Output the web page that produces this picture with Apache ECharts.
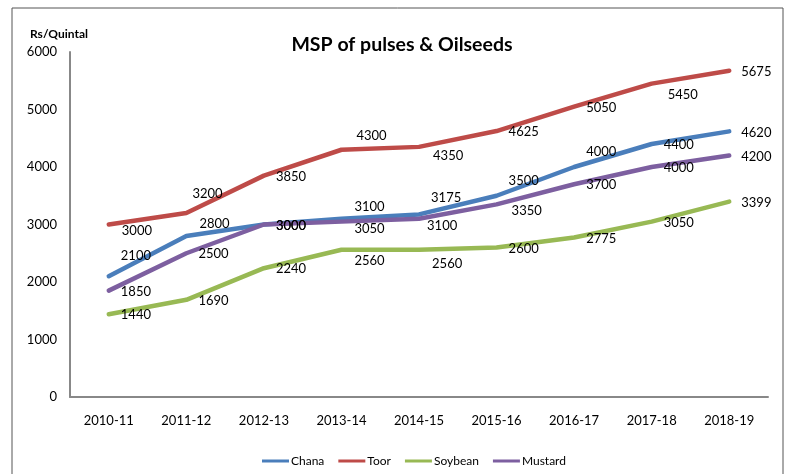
<!DOCTYPE html>
<html>
<head>
<meta charset="utf-8">
<title>MSP of pulses & Oilseeds</title>
<script src="https://cdn.jsdelivr.net/npm/echarts@6/dist/echarts.min.js"></script>
<style>
html, body { margin: 0; padding: 0; background: #fff; }
#main { width: 788px; height: 474px; }
</style>
</head>
<body>
<div id="main"></div>
<script>
// data
var years = ['2010-11', '2011-12', '2012-13', '2013-14', '2014-15', '2015-16', '2016-17', '2017-18', '2018-19'];
var chana = [2100, 2800, 3000, 3100, 3175, 3500, 4000, 4400, 4620];
var toor = [3000, 3200, 3850, 4300, 4350, 4625, 5050, 5450, 5675];
var soybean = [1440, 1690, 2240, 2560, 2560, 2600, 2775, 3050, 3399];
var mustard = [1850, 2500, 3000, 3050, 3100, 3350, 3700, 4000, 4200];

// label nudges [dx, dy] per point (index -> offset), default is just right of point
var nudgeChana = { 0: [0, -21], 1: [1, -13], 3: [1, -13], 4: [0, -18], 5: [0, -16], 6: [0, -16] };
var nudgeToor = { 0: [1, 5], 1: [-6, -20], 3: [3, -15], 4: [2, 8], 7: [4, 10] };
var nudgeSoy = { 3: [1, 10], 4: [1, 13] };
var nudgeMustard = { 3: [1, 6], 4: [-4, 6], 5: [3, 5] };

var FONT = 'Lato';

function mkSeries(name, vals, nudge, color) {
	return {
		name: name,
		type: 'line',
		data: vals,
		// tiny symbol so the labels get drawn
		symbol: 'circle',
		symbolSize: 0.1,
		showSymbol: true,
		smooth: false,
		color: color,
		itemStyle: { color: color },
		lineStyle: { width: 4.5, color: color, cap: 'round', join: 'round' },
		label: {
			show: true,
			position: 'right',
			distance: 12,
			color: '#000',
			fontFamily: FONT,
			fontSize: 13
		},
		labelLayout: function (params) {
			var off = nudge[params.dataIndex] || [0, 0];
			return { dx: off[0], dy: off[1] + 1, hideOverlap: false };
		},
		emphasis: { disabled: true },
		animation: false
	};
}

var myChart = echarts.init(document.getElementById('main'));
var option = {
	backgroundColor: '#fff',
	animation: false,
	title: [{
		text: 'MSP of pulses & Oilseeds',
		left: 397,
		top: 30,
		textAlign: 'center',
		textStyle: { fontFamily: FONT, fontSize: 19.5, fontWeight: 'bold', color: '#000' }
	}, {
		text: 'Rs/Quintal',
		left: 25,
		top: 23,
		textStyle: { fontFamily: FONT, fontSize: 12, fontWeight: 'bold', color: '#000' }
	}],
	graphic: [{
		type: 'rect',
		shape: { x: 12, y: 8, width: 771, height: 480 },
		style: { fill: 'none', stroke: '#555', lineWidth: 1 },
		silent: true,
		z: -1
	}],
	legend: {
		data: ['Chana', 'Toor', 'Soybean', 'Mustard'],
		left: 257,
		top: 450,
		icon: 'rect',
		itemWidth: 27,
		itemHeight: 3,
		itemGap: 14,
		textStyle: { fontFamily: FONT, fontSize: 12, color: '#000', padding: [0, 0, 0, -3] }
	},
	grid: { left: 70, right: 20, top: 52, bottom: 77, containLabel: false },
	xAxis: {
		type: 'category',
		data: years,
		boundaryGap: true,
		axisLine: { lineStyle: { color: '#888', width: 2 } },
		axisTick: { show: false },
		axisLabel: { fontFamily: FONT, fontSize: 13, color: '#000', margin: 17 },
		splitLine: { show: false }
	},
	yAxis: {
		type: 'value',
		min: 0,
		max: 6000,
		interval: 1000,
		axisLine: { show: true, lineStyle: { color: '#888', width: 2 } },
		axisTick: { show: false },
		axisLabel: {
			fontFamily: FONT, fontSize: 13, color: '#000', margin: 13,
			formatter: function (v) { return String(v); }
		},
		splitLine: { show: false }
	},
	series: [
		mkSeries('Chana', chana, nudgeChana, '#4A7EBB'),
		mkSeries('Toor', toor, nudgeToor, '#BE4B48'),
		mkSeries('Soybean', soybean, nudgeSoy, '#98B954'),
		mkSeries('Mustard', mustard, nudgeMustard, '#7D5FA0')
	]
};
myChart.setOption(option);
</script>
</body>
</html>
